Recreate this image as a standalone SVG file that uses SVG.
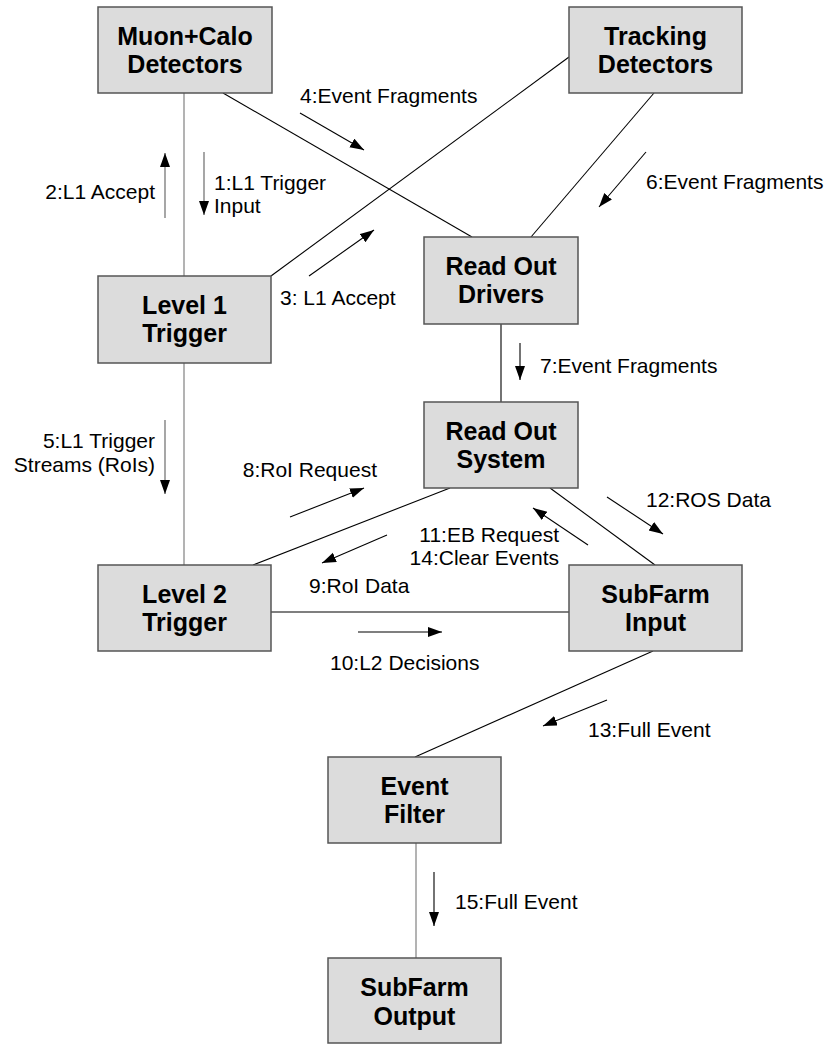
<svg xmlns="http://www.w3.org/2000/svg" width="827" height="1044" viewBox="0 0 827 1044">
<style>
.box{fill:#dcdcdc;stroke:#555;stroke-width:1.5}
.bt{font-family:"Liberation Sans",Arial,sans-serif;font-weight:bold;font-size:25px;fill:#000;text-anchor:middle}
.lt{font-family:"Liberation Sans",Arial,sans-serif;font-size:21px;fill:#000}
.e{text-anchor:end}
.cg{stroke:#8a8a8a;stroke-width:1.3;fill:none}
.cb{stroke:#000;stroke-width:1.1;fill:none}
.ab{stroke:#000;stroke-width:1.1;fill:none;marker-end:url(#ah)}
.ag{stroke:#777;stroke-width:1.3;fill:none;marker-end:url(#ah)}
</style>
<defs>
<marker id="ah" markerUnits="userSpaceOnUse" markerWidth="16" markerHeight="12" refX="14" refY="5" orient="auto">
<path d="M0,0 L14,5 L0,10 Z" fill="#000"/>
</marker>
</defs>
<rect width="827" height="1044" fill="#fff"/>
<g id="connectors">
<line class="cg" x1="184" y1="93" x2="184" y2="276"/>
<line class="cb" x1="223" y1="93" x2="472" y2="237"/>
<line class="cb" x1="271" y1="276" x2="569" y2="57"/>
<line class="cb" x1="654" y1="93" x2="531" y2="237"/>
<line class="cb" x1="501" y1="324" x2="501" y2="402"/>
<line class="cg" x1="184" y1="363" x2="184" y2="565"/>
<line class="cb" x1="253" y1="565" x2="450" y2="488"/>
<line class="cb" x1="550" y1="488" x2="655" y2="565"/>
<line class="cb" x1="271" y1="612" x2="569" y2="612"/>
<line class="cb" x1="653" y1="651" x2="415" y2="757"/>
<line class="cg" x1="416" y1="843" x2="416" y2="958"/>
</g>
<g id="arrows">
<line class="ag" x1="204" y1="152" x2="204" y2="215"/>
<line class="ag" x1="165" y1="218" x2="165" y2="153"/>
<line class="ab" x1="309" y1="276" x2="374" y2="230"/>
<line class="ab" x1="300" y1="113" x2="364" y2="150"/>
<line class="ag" x1="165" y1="420" x2="165" y2="494"/>
<line class="ab" x1="646" y1="152" x2="599" y2="207"/>
<line class="ab" x1="520" y1="343" x2="520" y2="380"/>
<line class="ab" x1="290" y1="517" x2="364" y2="488"/>
<line class="ab" x1="387" y1="535" x2="322" y2="563"/>
<line class="ab" x1="358" y1="632" x2="442" y2="632"/>
<line class="ab" x1="588" y1="545" x2="533" y2="508"/>
<line class="ab" x1="607" y1="497" x2="663" y2="534"/>
<line class="ab" x1="607" y1="700" x2="543" y2="726"/>
<line class="ab" x1="434" y1="872" x2="434" y2="926"/>
</g>
<g id="labels">
<text class="lt" x="214" y="190">1:L1 Trigger</text>
<text class="lt" x="214" y="213">Input</text>
<text class="lt e" x="155" y="199">2:L1 Accept</text>
<text class="lt" x="280" y="305">3: L1 Accept</text>
<text class="lt" x="300" y="103">4:Event Fragments</text>
<text class="lt e" x="155" y="448">5:L1 Trigger</text>
<text class="lt e" x="155" y="472">Streams (RoIs)</text>
<text class="lt" x="646" y="189">6:Event Fragments</text>
<text class="lt" x="540" y="373">7:Event Fragments</text>
<text class="lt e" x="377" y="477">8:RoI Request</text>
<text class="lt" x="309" y="593">9:RoI Data</text>
<text class="lt" x="330" y="670">10:L2 Decisions</text>
<text class="lt e" x="559" y="542">11:EB Request</text>
<text class="lt e" x="559" y="565">14:Clear Events</text>
<text class="lt" x="646" y="507">12:ROS Data</text>
<text class="lt" x="588" y="737">13:Full Event</text>
<text class="lt" x="455" y="909">15:Full Event</text>
</g>
<g id="muon-calo">
<rect class="box" x="98" y="7" width="174" height="86"/>
<text class="bt" x="185" y="45">Muon+Calo</text>
<text class="bt" x="185" y="73">Detectors</text>
</g>
<g id="tracking">
<rect class="box" x="569" y="7" width="173" height="86"/>
<text class="bt" x="655.5" y="45">Tracking</text>
<text class="bt" x="655.5" y="73">Detectors</text>
</g>
<g id="rod">
<rect class="box" x="424" y="237" width="154" height="87"/>
<text class="bt" x="501" y="275">Read Out</text>
<text class="bt" x="501" y="303">Drivers</text>
</g>
<g id="level1">
<rect class="box" x="98" y="276" width="173" height="87"/>
<text class="bt" x="184.5" y="314">Level 1</text>
<text class="bt" x="184.5" y="342">Trigger</text>
</g>
<g id="ros">
<rect class="box" x="424" y="402" width="154" height="86"/>
<text class="bt" x="501" y="440">Read Out</text>
<text class="bt" x="501" y="468">System</text>
</g>
<g id="level2">
<rect class="box" x="98" y="565" width="173" height="86"/>
<text class="bt" x="184.5" y="603">Level 2</text>
<text class="bt" x="184.5" y="631">Trigger</text>
</g>
<g id="sfi">
<rect class="box" x="569" y="565" width="173" height="86"/>
<text class="bt" x="655.5" y="603">SubFarm</text>
<text class="bt" x="655.5" y="631">Input</text>
</g>
<g id="event-filter">
<rect class="box" x="328" y="757" width="173" height="86"/>
<text class="bt" x="414.5" y="795">Event</text>
<text class="bt" x="414.5" y="823">Filter</text>
</g>
<g id="sfo">
<rect class="box" x="328" y="958" width="173" height="85"/>
<text class="bt" x="414.5" y="996">SubFarm</text>
<text class="bt" x="414.5" y="1025">Output</text>
</g>
</svg>
